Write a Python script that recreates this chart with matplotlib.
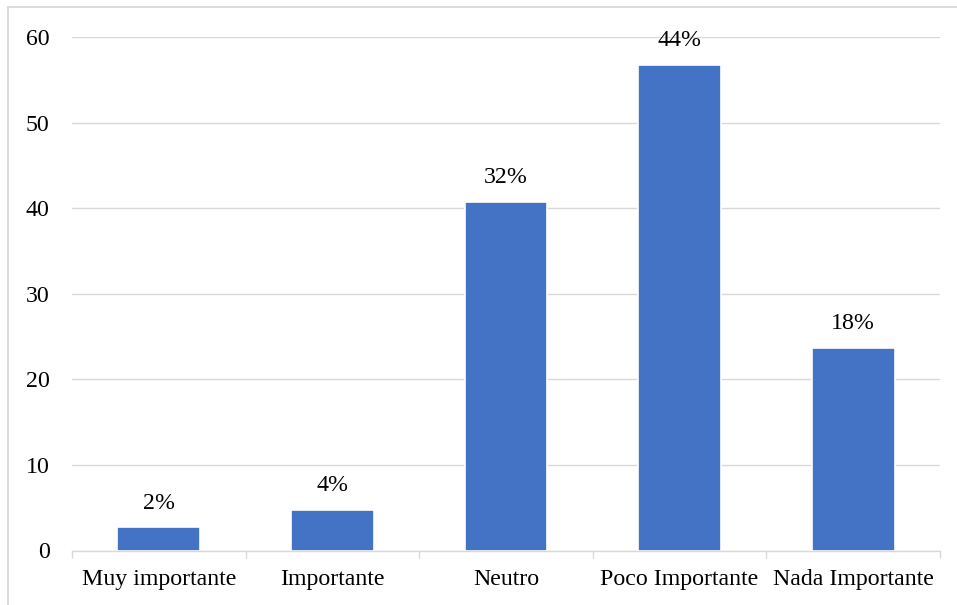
import matplotlib
matplotlib.use("Agg")
import matplotlib.pyplot as plt
from matplotlib.lines import Line2D
from matplotlib.ticker import FixedLocator

categories = ["Muy importante", "Importante", "Neutro", "Poco Importante", "Nada Importante"]
values = [2.7, 4.7, 40.7, 56.7, 23.7]
labels = ["2%", "4%", "32%", "44%", "18%"]
yticks = [0, 10, 20, 30, 40, 50, 60]

W, H = 957, 605
fig = plt.figure(figsize=(W / 100, H / 100), dpi=100)
plt.rcParams['font.family'] = ['Liberation Serif', 'DejaVu Serif']

ax = fig.add_axes([72 / W, (H - 550.5) / H, (940 - 72) / W, (550.5 - 37) / H])

x = list(range(len(categories)))
ax.bar(x, values, width=0.476, color="#4472C4", edgecolor="white", linewidth=1.2, zorder=3)

for xi, v, lab in zip(x, values, labels):
    ax.annotate(lab, (xi, v), xytext=(0, 10), textcoords="offset points",
                ha="center", va="bottom", fontsize=17.2, color="#000000")

ax.set_xlim(-0.5, len(categories) - 0.5)
ax.set_ylim(0, 60)
ax.set_yticks(yticks)
ax.set_yticklabels([str(t) for t in yticks])
ax.set_xticks(x)
ax.set_xticklabels(categories)
ax.xaxis.set_minor_locator(FixedLocator([i - 0.5 for i in range(len(categories) + 1)]))

ax.tick_params(axis="x", which="major", length=0, pad=13, labelsize=17.2, labelcolor="#000000")
ax.tick_params(axis="x", which="minor", length=5, width=1.0, color="#D9D9D9", direction="out")
ax.tick_params(axis="y", length=0, pad=16, labelsize=17.2, labelcolor="#000000")

ax.grid(axis="y", color="#D9D9D9", linewidth=1.0, zorder=0)
ax.set_axisbelow(True)
for s in ["top", "right", "left"]:
    ax.spines[s].set_visible(False)
ax.spines["bottom"].set_color("#D9D9D9")
ax.spines["bottom"].set_linewidth(1.0)
ax.spines["bottom"].set_zorder(4)

# outer chart border (top and left visible)
fig.add_artist(Line2D([8 / W, 1.0], [(H - 7) / H, (H - 7) / H], transform=fig.transFigure,
                      color="#D9D9D9", linewidth=1.3))
fig.add_artist(Line2D([8 / W, 8 / W], [0.0, (H - 7) / H], transform=fig.transFigure,
                      color="#D9D9D9", linewidth=1.3))

fig.savefig("out.png", dpi=100)
